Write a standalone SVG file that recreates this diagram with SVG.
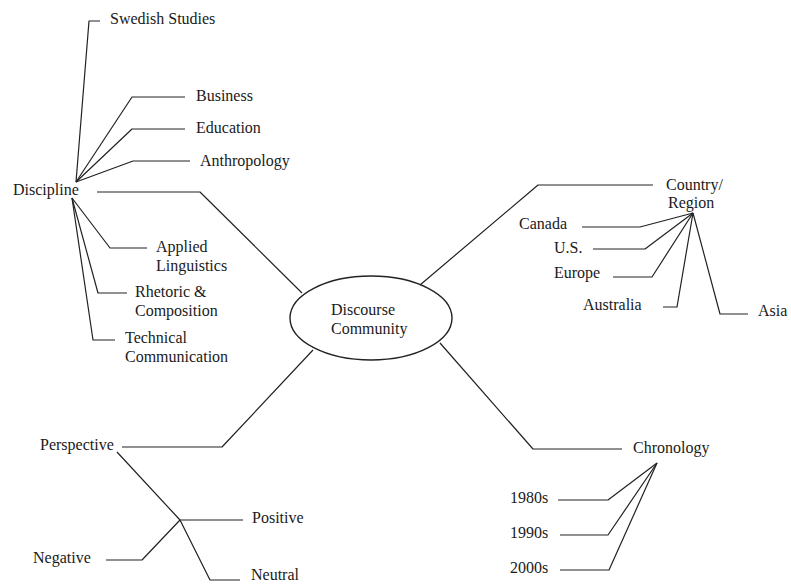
<svg xmlns="http://www.w3.org/2000/svg" width="791" height="584" viewBox="0 0 791 584">
<style>
text{font-family:"Liberation Serif","Times New Roman",Times,serif;font-size:16px;fill:#1a1a1a}
.c{fill:none;stroke:#222;stroke-width:1.2;stroke-linejoin:round}
</style>
<rect width="791" height="584" fill="#fff"/>
<g id="connectors">
<polyline class="c" points="100,21 89,21 76,182"/>
<polyline class="c" points="185,97 132,97 76,182"/>
<polyline class="c" points="185,129 132,129 76,182"/>
<polyline class="c" points="190,161 133,161 76,182"/>
<polyline class="c" points="147,248 110,248 72,198"/>
<polyline class="c" points="127,293 98,293 72,198"/>
<polyline class="c" points="115,340 93,340 72,198"/>
<polyline class="c" points="97,192 200,192 302,293"/>
<polyline class="c" points="420,285 538,185 653,185"/>
<polyline class="c" points="582,227 640,227 693,213"/>
<polyline class="c" points="593,249 645,249 693,213"/>
<polyline class="c" points="613,277 652,277 693,213"/>
<polyline class="c" points="663,307 677,307 693,213"/>
<polyline class="c" points="693,213 720,314 748,314"/>
<polyline class="c" points="122,447 222,447 313,350"/>
<polyline class="c" points="117,452 180,520 243,520"/>
<polyline class="c" points="106,560 142,560 180,520"/>
<polyline class="c" points="180,520 210,580 240,580"/>
<polyline class="c" points="440,343 533,449 622,449"/>
<polyline class="c" points="558,500 608,500 657,463"/>
<polyline class="c" points="560,535 608,535 657,463"/>
<polyline class="c" points="560,570 609,570 657,463"/>
</g>
<g id="discourse-community">
<ellipse cx="371" cy="318" rx="81" ry="42" fill="none" stroke="#222" stroke-width="1.4"/>
<text x="331" y="315">Discourse</text>
<text x="331" y="334">Community</text>
</g>
<g id="discipline"><text x="13" y="195">Discipline</text></g>
<g id="swedish-studies"><text x="110" y="24">Swedish Studies</text></g>
<g id="business"><text x="196" y="101">Business</text></g>
<g id="education"><text x="196" y="133">Education</text></g>
<g id="anthropology"><text x="200" y="166">Anthropology</text></g>
<g id="applied-linguistics"><text x="156" y="252">Applied</text><text x="156" y="271">Linguistics</text></g>
<g id="rhetoric-composition"><text x="135" y="297">Rhetoric &amp;</text><text x="135" y="316">Composition</text></g>
<g id="technical-communication"><text x="125" y="343">Technical</text><text x="125" y="362">Communication</text></g>
<g id="country-region"><text x="666" y="190">Country/</text><text x="668" y="208">Region</text></g>
<g id="canada"><text x="519" y="229">Canada</text></g>
<g id="us"><text x="554" y="253">U.S.</text></g>
<g id="europe"><text x="554" y="278">Europe</text></g>
<g id="australia"><text x="583" y="310">Australia</text></g>
<g id="asia"><text x="758" y="316">Asia</text></g>
<g id="perspective"><text x="40" y="450">Perspective</text></g>
<g id="positive"><text x="252" y="523">Positive</text></g>
<g id="negative"><text x="33" y="563">Negative</text></g>
<g id="neutral"><text x="251" y="580">Neutral</text></g>
<g id="chronology"><text x="633" y="453">Chronology</text></g>
<g id="d1980s"><text x="510" y="503">1980s</text></g>
<g id="d1990s"><text x="510" y="538">1990s</text></g>
<g id="d2000s"><text x="510" y="573">2000s</text></g>
</svg>
